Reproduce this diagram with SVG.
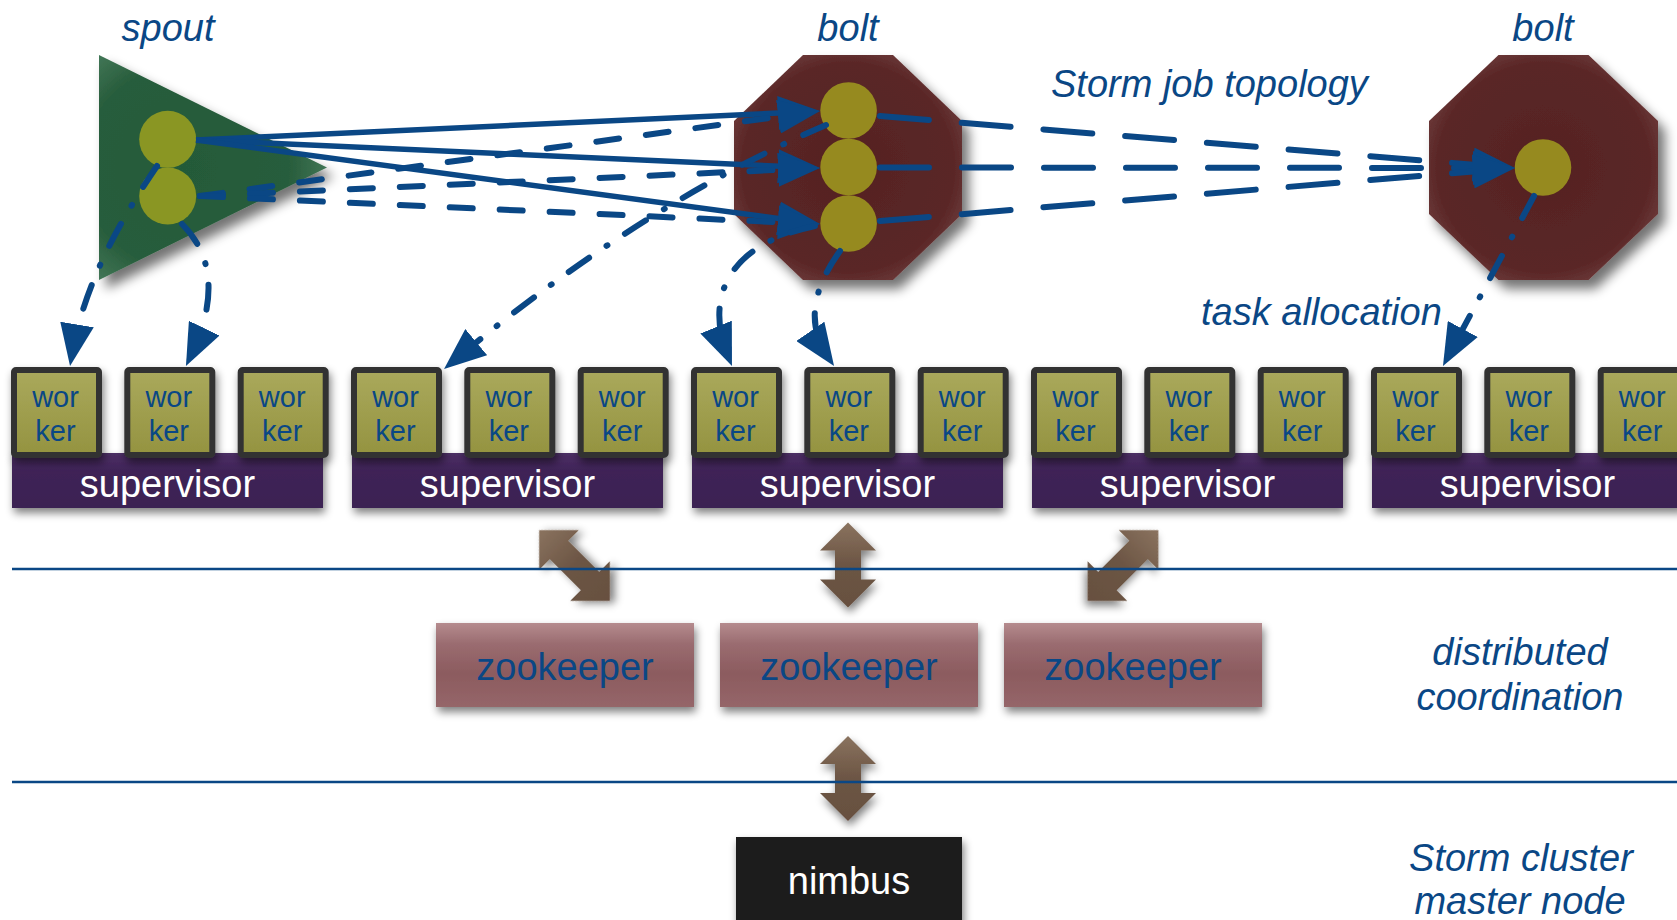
<svg xmlns="http://www.w3.org/2000/svg" width="1677" height="920" viewBox="0 0 1677 920">
<style>
.lbl{font-family:"Liberation Sans",Arial,sans-serif;font-style:italic;font-size:38px;fill:#0a4785}
.wk{font-family:"Liberation Sans",Arial,sans-serif;font-size:29px;fill:#0a4785;text-anchor:middle}
.sv{font-family:"Liberation Sans",Arial,sans-serif;font-size:38px;fill:#ffffff;text-anchor:middle}
.zt{font-family:"Liberation Sans",Arial,sans-serif;font-size:38px;fill:#0a4785;text-anchor:middle}
.wbox{fill:url(#wg);stroke:#333333;stroke-width:6}
.sbox{fill:url(#sg)}
.zbox{fill:url(#zg)}
.barr{fill:url(#bg)}
.sc{fill:#8a9623}
.bc{fill:#968a1f}
.sol{fill:none;stroke:#0a4785;stroke-width:5.5;marker-end:url(#ah)}
.d1{fill:none;stroke:#0a4785;stroke-width:6;stroke-linecap:round;stroke-dasharray:23 27;marker-end:url(#ah)}
.d2{fill:none;stroke:#0a4785;stroke-width:6;stroke-linecap:round;stroke-dasharray:49 33;marker-end:url(#ah)}
.dd{fill:none;stroke:#0a4785;stroke-width:6;stroke-linecap:round;stroke-dasharray:25 21 1 21;marker-end:url(#ah)}
.hl{stroke:#0a4785;stroke-width:2.5}
</style>
<defs>
<marker id="ah" markerUnits="userSpaceOnUse" markerWidth="42" markerHeight="34" refX="32" refY="17" orient="auto" viewBox="0 0 42 34">
<path d="M0,0 L42,17 L0,34 Z" fill="#0a4785"/>
</marker>
<linearGradient id="wg" x1="0" y1="0" x2="0" y2="1"><stop offset="0" stop-color="#aaa95c"/><stop offset="1" stop-color="#949340"/></linearGradient>
<linearGradient id="sg" x1="0" y1="0" x2="0" y2="1"><stop offset="0" stop-color="#4b2e63"/><stop offset="0.35" stop-color="#3f2357"/><stop offset="1" stop-color="#3b2052"/></linearGradient>
<linearGradient id="zg" x1="0" y1="0" x2="0" y2="1"><stop offset="0" stop-color="#b58b8e"/><stop offset="0.25" stop-color="#9a6c70"/><stop offset="0.6" stop-color="#8c5b5f"/><stop offset="1" stop-color="#956669"/></linearGradient>
<linearGradient id="bg" x1="0" y1="0" x2="0" y2="1"><stop offset="0" stop-color="#8a735f"/><stop offset="0.5" stop-color="#6c5544"/><stop offset="1" stop-color="#675040"/></linearGradient>
<radialGradient id="tg" cx="0.38" cy="0.5" r="0.7"><stop offset="0" stop-color="#245a39"/><stop offset="0.65" stop-color="#285d3c"/><stop offset="1" stop-color="#4d8162"/></radialGradient>
<radialGradient id="og" cx="0.5" cy="0.5" r="0.62"><stop offset="0" stop-color="#562222"/><stop offset="0.75" stop-color="#5a2727"/><stop offset="1" stop-color="#7a4747"/></radialGradient>
<filter id="sh" x="-20%" y="-20%" width="150%" height="170%">
<feGaussianBlur in="SourceAlpha" stdDeviation="4"/>
<feOffset dx="2" dy="5"/>
<feComponentTransfer><feFuncA type="linear" slope="0.5"/></feComponentTransfer>
<feMerge><feMergeNode/><feMergeNode in="SourceGraphic"/></feMerge>
</filter>
<filter id="shb" x="-20%" y="-20%" width="150%" height="150%">
<feGaussianBlur in="SourceAlpha" stdDeviation="6"/>
<feOffset dx="7" dy="9"/>
<feComponentTransfer><feFuncA type="linear" slope="0.55"/></feComponentTransfer>
<feMerge><feMergeNode/><feMergeNode in="SourceGraphic"/></feMerge>
</filter>
<path id="va" d="M0,-42.5 L28,-14.5 L13,-14.5 L13,14.5 L28,14.5 L0,42.5 L-28,14.5 L-13,14.5 L-13,-14.5 L-28,-14.5 Z"/>
<path id="da" d="M0,-50 L28,-22 L13,-22 L13,22 L28,22 L0,50 L-28,22 L-13,22 L-13,-22 L-28,-22 Z"/>
</defs>
<rect width="1677" height="920" fill="#ffffff"/>

<g id="supervisors">
<g id="supervisor-1"><rect class="sbox" x="12" y="453" width="311" height="55" filter="url(#sh)"/><text class="sv" x="167.5" y="496.5">supervisor</text></g>
<g id="supervisor-2"><rect class="sbox" x="352" y="453" width="311" height="55" filter="url(#sh)"/><text class="sv" x="507.5" y="496.5">supervisor</text></g>
<g id="supervisor-3"><rect class="sbox" x="692" y="453" width="311" height="55" filter="url(#sh)"/><text class="sv" x="847.5" y="496.5">supervisor</text></g>
<g id="supervisor-4"><rect class="sbox" x="1032" y="453" width="311" height="55" filter="url(#sh)"/><text class="sv" x="1187.5" y="496.5">supervisor</text></g>
<g id="supervisor-5"><rect class="sbox" x="1372" y="453" width="311" height="55" filter="url(#sh)"/><text class="sv" x="1527.5" y="496.5">supervisor</text></g>
</g>

<g id="workers">
<g id="worker-1"><rect class="wbox" x="14" y="370" width="85" height="85" rx="2" filter="url(#sh)"/><text class="wk" x="55.5" y="406.5">wor</text><text class="wk" x="55.5" y="440.5">ker</text></g>
<g id="worker-2"><rect class="wbox" x="127.3" y="370" width="85" height="85" rx="2" filter="url(#sh)"/><text class="wk" x="168.8" y="406.5">wor</text><text class="wk" x="168.8" y="440.5">ker</text></g>
<g id="worker-3"><rect class="wbox" x="240.7" y="370" width="85" height="85" rx="2" filter="url(#sh)"/><text class="wk" x="282.2" y="406.5">wor</text><text class="wk" x="282.2" y="440.5">ker</text></g>
<g id="worker-4"><rect class="wbox" x="354" y="370" width="85" height="85" rx="2" filter="url(#sh)"/><text class="wk" x="395.5" y="406.5">wor</text><text class="wk" x="395.5" y="440.5">ker</text></g>
<g id="worker-5"><rect class="wbox" x="467.3" y="370" width="85" height="85" rx="2" filter="url(#sh)"/><text class="wk" x="508.8" y="406.5">wor</text><text class="wk" x="508.8" y="440.5">ker</text></g>
<g id="worker-6"><rect class="wbox" x="580.7" y="370" width="85" height="85" rx="2" filter="url(#sh)"/><text class="wk" x="622.2" y="406.5">wor</text><text class="wk" x="622.2" y="440.5">ker</text></g>
<g id="worker-7"><rect class="wbox" x="694" y="370" width="85" height="85" rx="2" filter="url(#sh)"/><text class="wk" x="735.5" y="406.5">wor</text><text class="wk" x="735.5" y="440.5">ker</text></g>
<g id="worker-8"><rect class="wbox" x="807.3" y="370" width="85" height="85" rx="2" filter="url(#sh)"/><text class="wk" x="848.8" y="406.5">wor</text><text class="wk" x="848.8" y="440.5">ker</text></g>
<g id="worker-9"><rect class="wbox" x="920.7" y="370" width="85" height="85" rx="2" filter="url(#sh)"/><text class="wk" x="962.2" y="406.5">wor</text><text class="wk" x="962.2" y="440.5">ker</text></g>
<g id="worker-10"><rect class="wbox" x="1034" y="370" width="85" height="85" rx="2" filter="url(#sh)"/><text class="wk" x="1075.5" y="406.5">wor</text><text class="wk" x="1075.5" y="440.5">ker</text></g>
<g id="worker-11"><rect class="wbox" x="1147.3" y="370" width="85" height="85" rx="2" filter="url(#sh)"/><text class="wk" x="1188.8" y="406.5">wor</text><text class="wk" x="1188.8" y="440.5">ker</text></g>
<g id="worker-12"><rect class="wbox" x="1260.7" y="370" width="85" height="85" rx="2" filter="url(#sh)"/><text class="wk" x="1302.2" y="406.5">wor</text><text class="wk" x="1302.2" y="440.5">ker</text></g>
<g id="worker-13"><rect class="wbox" x="1374" y="370" width="85" height="85" rx="2" filter="url(#sh)"/><text class="wk" x="1415.5" y="406.5">wor</text><text class="wk" x="1415.5" y="440.5">ker</text></g>
<g id="worker-14"><rect class="wbox" x="1487.3" y="370" width="85" height="85" rx="2" filter="url(#sh)"/><text class="wk" x="1528.8" y="406.5">wor</text><text class="wk" x="1528.8" y="440.5">ker</text></g>
<g id="worker-15"><rect class="wbox" x="1600.7" y="370" width="85" height="85" rx="2" filter="url(#sh)"/><text class="wk" x="1642.2" y="406.5">wor</text><text class="wk" x="1642.2" y="440.5">ker</text></g>
</g>

<g id="zookeepers">
<g id="zookeeper-1"><rect class="zbox" x="436" y="623" width="258" height="84" filter="url(#sh)"/><text class="zt" x="565" y="680">zookeeper</text></g>
<g id="zookeeper-2"><rect class="zbox" x="720" y="623" width="258" height="84" filter="url(#sh)"/><text class="zt" x="849" y="680">zookeeper</text></g>
<g id="zookeeper-3"><rect class="zbox" x="1004" y="623" width="258" height="84" filter="url(#sh)"/><text class="zt" x="1133" y="680">zookeeper</text></g>
</g>

<g id="nimbus"><rect x="736" y="837" width="226" height="95" fill="#1b1b1b" filter="url(#sh)"/><text class="sv" x="849" y="894">nimbus</text></g>

<g id="coordination-arrows">
<use href="#da" class="barr" transform="translate(574.5,565.5) rotate(-45)" filter="url(#sh)"/>
<use href="#va" class="barr" transform="translate(848,565)" filter="url(#sh)"/>
<use href="#da" class="barr" transform="translate(1123,565.5) rotate(45)" filter="url(#sh)"/>
<use href="#va" class="barr" transform="translate(848,778.4)" filter="url(#sh)"/>
</g>

<g id="layer-lines">
<line class="hl" x1="12" y1="569" x2="1677" y2="569"/>
<line class="hl" x1="12" y1="782" x2="1677" y2="782"/>
</g>

<g id="spout">
<polygon points="99,55 99,280 327,167.5" fill="url(#tg)" filter="url(#shb)"/>
<circle class="sc" cx="167.7" cy="139.3" r="28.5"/>
<circle class="sc" cx="167.7" cy="196" r="28.5"/>
<text class="lbl" x="168" y="41" text-anchor="middle">spout</text>
</g>

<g id="bolt-1">
<polygon points="803,55 893,55 962,121 962,214 893,280 803,280 734,214 734,121" fill="url(#og)" filter="url(#shb)"/>
<circle class="bc" cx="848.6" cy="110.5" r="28.3"/>
<circle class="bc" cx="848.6" cy="167" r="28.3"/>
<circle class="bc" cx="848.6" cy="223.5" r="28.3"/>
<text class="lbl" x="848" y="41" text-anchor="middle">bolt</text>
</g>

<g id="bolt-2">
<polygon points="1498.5,55 1588.5,55 1658,121 1658,214 1588.5,280 1498.5,280 1429,214 1429,121" fill="url(#og)" filter="url(#shb)"/>
<circle class="bc" cx="1543" cy="167.5" r="28.3"/>
<text class="lbl" x="1543" y="41" text-anchor="middle">bolt</text>
</g>

<g id="labels">
<text class="lbl" x="1051" y="97">Storm job topology</text>
<text class="lbl" x="1201" y="325">task allocation</text>
<text class="lbl" x="1520" y="665" text-anchor="middle">distributed</text>
<text class="lbl" x="1520" y="710" text-anchor="middle">coordination</text>
<text class="lbl" x="1521" y="871" text-anchor="middle">Storm cluster</text>
<text class="lbl" x="1520" y="914" text-anchor="middle">master node</text>
</g>

<g id="connectors">
<path class="sol" d="M196,140 L810,111.5"/>
<path class="sol" d="M196,140 L810,167.6"/>
<path class="sol" d="M196,140 L810.1,222.7"/>
<path class="d1" d="M200,196 L810.1,112.4"/>
<path class="d1" d="M200,196 L810,168.4"/>
<path class="d1" d="M200,196 L810,223.6"/>
<path class="d2" d="M880,116 L1505,167.2"/>
<path class="d2" d="M880,167.5 L1505,168"/>
<path class="d2" d="M880,221 L1505,168.8"/>
<path class="dd" d="M157,166 C110,235 82,295 71.7,356.1"/>
<path class="dd" d="M182,224 C220,262 212,312 190.3,357"/>
<path class="dd" d="M826,125 Q640,205 451.7,362.6"/>
<path class="dd" d="M815,226 C725,245 705,300 728.2,356.7"/>
<path class="dd" d="M840,251 C812,290 806,325 828.4,357.7"/>
<path class="dd" d="M1534,196 L1447.7,357.2"/>
</g>
</svg>
